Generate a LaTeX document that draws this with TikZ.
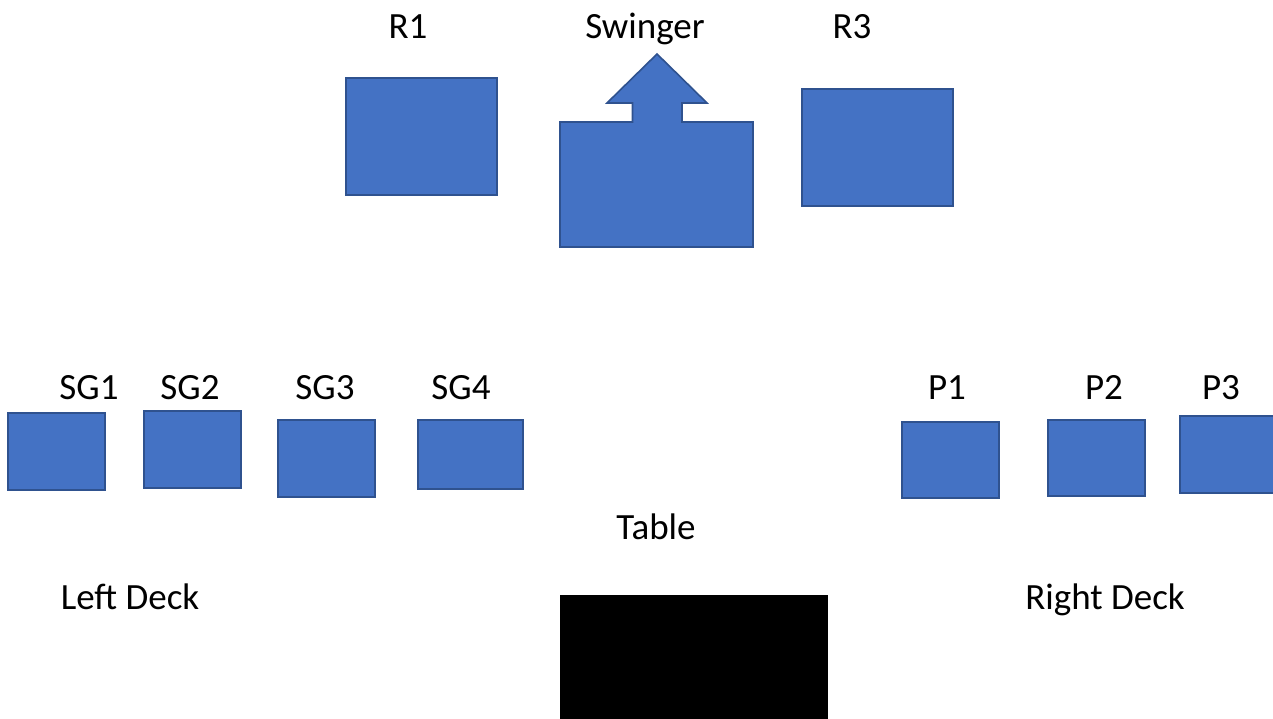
\documentclass[tikz,border=0pt]{standalone}
\usepackage{fontspec}
\setmainfont{Carlito}
\begin{document}
\begin{tikzpicture}[x=1pt,y=-1pt,
  box/.style={fill=blue!0!white, fill={rgb,255:red,68;green,114;blue,196}, draw={rgb,255:red,47;green,82;blue,143}, line width=1.6pt},
  lbl/.style={anchor=base, inner sep=0pt, font=\fontsize{37}{44}\selectfont}]
\useasboundingbox (0,0) rectangle (1273,719);
\clip (0,0) rectangle (1273,719);
% top row
\draw[box] (346,78) rectangle (497,195);
\draw[box] (560,122) -- (632.5,122) -- (632.5,103) -- (607,103) -- (657,54) -- (707,103) -- (682,103) -- (682,122) -- (753,122) -- (753,247) -- (560,247) -- cycle;
\draw[box] (802,89) rectangle (953,206);
% left deck
\draw[box] (8,413) rectangle (105,490);
\draw[box] (144,411) rectangle (241,488);
\draw[box] (278,420) rectangle (375,497);
\draw[box] (418,420) rectangle (523,489);
% right deck
\draw[box] (902,422) rectangle (999,498);
\draw[box] (1048,420) rectangle (1145,496);
\draw[box] (1180,416) rectangle (1290,493);
% table
\fill[black] (560,595) rectangle (828,730);
% labels
\node[lbl] (r1) at (408,39) {R1};
\node[lbl] (sw) at (645,39) {Swinger};
\node[lbl] (r3) at (852,39) {R3};
\node[lbl] (sg1) at (89,399) {SG1};
\node[lbl] (sg2) at (190,399) {SG2};
\node[lbl] (sg3) at (325,399) {SG3};
\node[lbl] (sg4) at (461,399) {SG4};
\node[lbl] (p1) at (947,399) {P1};
\node[lbl] (p2) at (1104,399) {P2};
\node[lbl] (p3) at (1221,399) {P3};
\node[lbl] (tab) at (656,539) {Table};
\node[lbl] (ld) at (130,609) {Left Deck};
\node[lbl] (rd) at (1105,609) {Right Deck};
\end{tikzpicture}
\end{document}
